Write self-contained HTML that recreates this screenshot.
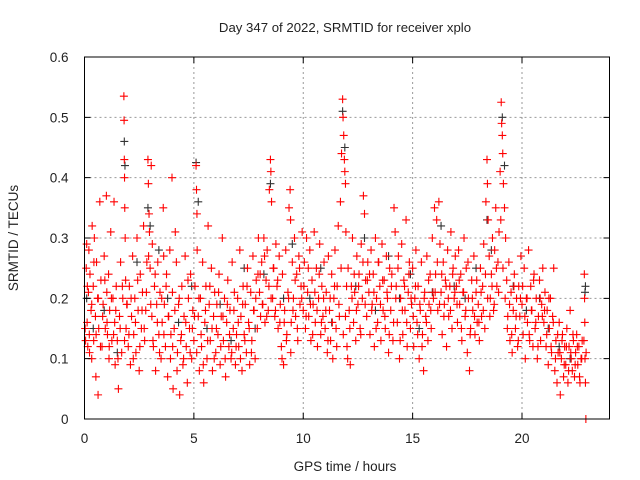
<!DOCTYPE html>
<html><head><meta charset="utf-8"><style>
body{margin:0;background:#fff}
svg{display:block;font-family:"Liberation Sans",sans-serif}
</style></head><body>
<svg id="chart" width="640" height="480" viewBox="0 0 640 480">
<rect width="640" height="480" fill="#fff"/>
<g id="grid"></g>
<g id="marks"></g>
<rect x="84.5" y="57" width="525" height="362" fill="none" stroke="#000" stroke-width="1"/>
<g id="ticks"></g>
<text x="345" y="32" font-size="13.2" text-anchor="middle" fill="#222">Day 347 of 2022, SRMTID for receiver xplo</text>
<text x="345" y="471" font-size="13.5" text-anchor="middle" fill="#222">GPS time / hours</text>
<text transform="translate(18,238) rotate(-90)" font-size="13.5" text-anchor="middle" fill="#222">SRMTID / TECUs</text>
</svg>
<script>
const xTicks=[0,5,10,15,20];
const yTicks=[0,0.1,0.2,0.3,0.4,0.5,0.6];
const yTickLabels=["0","0.1","0.2","0.3","0.4","0.5","0.6"];
const redSeries=[[0.05,.13],[0.08,.25],[0.1,.29],[0.12,.16],[0.15,.12],[0.18,.21],[0.2,.28],[0.22,.14],[0.25,.24],[0.3,.18],[0.33,.1],[0.35,.32],[0.4,.22],[0.42,.13],[0.45,.3],[0.5,.17],[0.52,.07],[0.55,.26],[0.6,.2],[0.62,.04],[0.65,.15],[0.7,.36],[0.75,.23],[0.8,.12],[0.85,.19],[0.9,.27],[0.95,.15],
[1.0,.37],[1.02,.21],[1.05,.14],[1.1,.24],[1.12,.1],[1.15,.18],[1.2,.31],[1.25,.13],[1.3,.2],[1.35,.36],[1.38,.16],[1.4,.09],[1.45,.22],[1.5,.13],[1.55,.05],[1.6,.17],[1.65,.26],[1.7,.11],[1.75,.2],[1.8,.535],[1.81,.495],[1.82,.43],[1.83,.4],[1.84,.35],[1.86,.3],[1.88,.23],[1.9,.15],[1.95,.19],
[2.0,.12],[2.05,.22],[2.1,.09],[2.15,.17],[2.2,.27],[2.25,.14],[2.3,.2],[2.35,.11],[2.4,.3],[2.45,.18],[2.5,.08],[2.55,.24],[2.6,.15],[2.65,.21],[2.7,.32],[2.75,.13],[2.8,.18],[2.85,.26],[2.9,.43],[2.92,.39],[2.95,.34],[2.97,.31],[3.0,.25],
[3.05,.42],[3.08,.17],[3.1,.29],[3.15,.12],[3.2,.22],[3.25,.08],[3.3,.19],[3.35,.26],[3.4,.14],[3.45,.21],[3.5,.1],[3.55,.16],[3.6,.35],[3.62,.27],[3.65,.19],[3.7,.12],[3.75,.24],[3.8,.07],[3.85,.17],[3.9,.28],[3.95,.14],
[4.0,.4],[4.02,.21],[4.05,.05],[4.1,.15],[4.15,.31],[4.2,.26],[4.25,.11],[4.3,.19],[4.35,.04],[4.4,.13],[4.45,.22],[4.5,.09],[4.55,.17],[4.6,.27],[4.65,.12],[4.7,.06],[4.75,.2],[4.8,.15],[4.85,.24],[4.9,.1],[4.95,.18],
[5.0,.13],[5.05,.22],[5.1,.42],[5.12,.38],[5.14,.34],[5.15,.28],[5.2,.17],[5.25,.08],[5.3,.2],[5.35,.12],[5.4,.26],[5.45,.06],[5.5,.16],[5.55,.22],[5.6,.1],[5.65,.32],[5.7,.19],[5.75,.13],[5.8,.25],[5.85,.08],[5.9,.17],[5.95,.21],
[6.0,.11],[6.05,.19],[6.1,.14],[6.15,.24],[6.2,.09],[6.25,.17],[6.3,.3],[6.35,.13],[6.4,.2],[6.45,.07],[6.5,.16],[6.55,.23],[6.6,.12],[6.65,.18],[6.7,.1],[6.75,.26],[6.8,.15],[6.85,.21],[6.9,.09],[6.95,.14],
[7.0,.2],[7.05,.12],[7.1,.28],[7.15,.17],[7.2,.08],[7.25,.22],[7.3,.14],[7.35,.19],[7.4,.11],[7.45,.25],[7.5,.16],[7.55,.09],[7.6,.21],[7.65,.13],[7.7,.27],[7.75,.18],[7.8,.1],[7.85,.23],[7.9,.15],[7.95,.3],
[8.0,.21],[8.05,.17],[8.1,.26],[8.15,.19],[8.2,.3],[8.25,.16],[8.3,.23],[8.35,.28],[8.4,.18],[8.45,.38],[8.5,.43],[8.52,.41],[8.55,.36],[8.6,.2],[8.65,.25],[8.7,.17],[8.75,.29],[8.8,.22],[8.85,.15],[8.9,.27],[8.95,.19],
[9.0,.12],[9.05,.24],[9.1,.09],[9.15,.18],[9.2,.28],[9.25,.14],[9.3,.21],[9.35,.35],[9.4,.38],[9.42,.33],[9.45,.16],[9.5,.26],[9.55,.2],[9.6,.3],[9.65,.17],[9.7,.24],[9.75,.13],[9.8,.27],[9.85,.19],[9.9,.22],[9.95,.31],
[10.0,.18],[10.05,.26],[10.1,.15],[10.15,.3],[10.2,.21],[10.25,.17],[10.3,.28],[10.35,.13],[10.4,.23],[10.45,.19],[10.5,.31],[10.55,.16],[10.6,.25],[10.65,.12],[10.7,.2],[10.75,.29],[10.8,.14],[10.85,.22],[10.9,.17],[10.95,.26],
[11.0,.15],[11.05,.21],[11.1,.11],[11.15,.27],[11.2,.18],[11.25,.13],[11.3,.24],[11.35,.1],[11.4,.2],[11.45,.28],[11.5,.15],[11.55,.22],[11.6,.32],[11.65,.17],[11.7,.36],[11.75,.44],[11.8,.53],[11.82,.5],[11.85,.47],[11.88,.43],[11.9,.41],[11.93,.39],[11.95,.31],[11.98,.22],
[12.0,.12],[12.05,.25],[12.1,.18],[12.15,.09],[12.2,.22],[12.25,.3],[12.3,.16],[12.35,.21],[12.4,.13],[12.45,.27],[12.5,.19],[12.55,.24],[12.6,.15],[12.65,.29],[12.7,.2],[12.75,.37],[12.8,.34],[12.85,.23],[12.9,.17],[12.95,.26],
[13.0,.21],[13.05,.14],[13.1,.28],[13.15,.19],[13.2,.24],[13.25,.12],[13.3,.3],[13.35,.2],[13.4,.16],[13.45,.26],[13.5,.22],[13.55,.13],[13.6,.29],[13.65,.18],[13.7,.23],[13.75,.15],[13.8,.27],[13.85,.2],[13.9,.11],[13.95,.25],
[14.0,.18],[14.05,.24],[14.1,.13],[14.15,.35],[14.2,.31],[14.25,.22],[14.3,.16],[14.35,.27],[14.4,.1],[14.45,.2],[14.5,.29],[14.55,.14],[14.6,.23],[14.65,.18],[14.7,.33],[14.75,.12],[14.8,.21],[14.85,.26],[14.9,.15],[14.95,.19],
[15.0,.25],[15.05,.12],[15.1,.2],[15.15,.28],[15.2,.16],[15.25,.22],[15.3,.1],[15.35,.18],[15.4,.26],[15.45,.14],[15.5,.08],[15.55,.21],[15.6,.17],[15.65,.27],[15.7,.13],[15.75,.19],[15.8,.24],[15.85,.15],[15.9,.3],[15.95,.2],
[16.0,.35],[16.05,.24],[16.1,.33],[16.15,.18],[16.2,.36],[16.25,.29],[16.3,.21],[16.35,.14],[16.4,.26],[16.45,.19],[16.5,.23],[16.55,.12],[16.6,.28],[16.65,.17],[16.7,.22],[16.75,.31],[16.8,.15],[16.85,.25],[16.9,.2],[16.95,.27],
[17.0,.22],[17.05,.16],[17.1,.28],[17.15,.19],[17.2,.24],[17.25,.13],[17.3,.21],[17.35,.3],[17.4,.17],[17.45,.25],[17.5,.11],[17.55,.2],[17.6,.08],[17.65,.15],[17.7,.23],[17.75,.18],[17.8,.27],[17.85,.14],[17.9,.21],[17.95,.16],
[18.0,.19],[18.05,.13],[18.1,.25],[18.15,.17],[18.2,.22],[18.25,.29],[18.3,.15],[18.35,.36],[18.4,.43],[18.42,.39],[18.45,.33],[18.5,.27],[18.55,.2],[18.6,.24],[18.65,.3],[18.7,.18],[18.75,.28],[18.8,.35],[18.85,.22],[18.9,.26],[18.95,.31],
[19.0,.41],[19.05,.525],[19.07,.49],[19.1,.47],[19.12,.44],[19.15,.39],[19.2,.35],[19.25,.3],[19.3,.23],[19.35,.17],[19.4,.26],[19.45,.13],[19.5,.21],[19.55,.11],[19.6,.18],[19.65,.24],[19.7,.15],[19.75,.2],[19.8,.12],[19.85,.22],[19.9,.17],[19.95,.27],
[20.0,.19],[20.05,.14],[20.1,.25],[20.15,.1],[20.2,.2],[20.25,.16],[20.3,.28],[20.35,.13],[20.4,.22],[20.45,.18],[20.5,.12],[20.55,.24],[20.6,.15],[20.65,.2],[20.7,.1],[20.75,.17],[20.8,.23],[20.85,.13],[20.9,.19],[20.95,.25],
[21.0,.16],[21.05,.21],[21.1,.12],[21.15,.18],[21.2,.09],[21.25,.15],[21.3,.2],[21.35,.11],[21.4,.17],[21.45,.25],[21.5,.08],[21.55,.13],[21.6,.06],[21.65,.11],[21.7,.16],[21.75,.04],[21.8,.1],[21.85,.14],[21.9,.07],[21.95,.12],
[22.0,.09],[22.05,.15],[22.1,.06],[22.15,.12],[22.2,.18],[22.25,.1],[22.3,.08],[22.35,.13],[22.4,.07],[22.45,.11],[22.5,.14],[22.55,.09],[22.6,.12],[22.65,.06],[22.7,.1],[22.75,.13],[22.85,.24],[22.86,.2],[22.87,.16],[22.88,.1],[22.9,.06],[22.92,0.0]];
const redDense=[[0.03,.15],[0.13,.22],[0.23,.11],[0.33,.19],[0.43,.26],[0.53,.14],[0.63,.2],[0.73,.12],[0.83,.17],[0.93,.23],
[1.03,.16],[1.13,.12],[1.23,.2],[1.33,.14],[1.43,.18],[1.53,.1],[1.63,.15],[1.73,.22],[1.83,.13],[1.93,.19],
[2.03,.14],[2.13,.2],[2.23,.1],[2.33,.16],[2.43,.23],[2.53,.12],[2.63,.18],[2.73,.15],[2.83,.21],[2.93,.27],
[3.03,.19],[3.13,.13],[3.23,.24],[3.33,.16],[3.43,.11],[3.53,.2],[3.63,.14],[3.73,.22],[3.83,.17],[3.93,.1],
[4.03,.12],[4.13,.18],[4.23,.08],[4.33,.2],[4.43,.14],[4.53,.1],[4.63,.16],[4.73,.23],[4.83,.11],[4.93,.15],
[5.03,.17],[5.13,.11],[5.23,.2],[5.33,.14],[5.43,.09],[5.53,.18],[5.63,.13],[5.73,.22],[5.83,.15],[5.93,.1],
[6.03,.15],[6.13,.21],[6.23,.12],[6.33,.17],[6.43,.1],[6.53,.19],[6.63,.14],[6.73,.11],[6.83,.18],[6.93,.12],
[7.03,.16],[7.13,.1],[7.23,.19],[7.33,.13],[7.43,.22],[7.53,.15],[7.63,.11],[7.73,.18],[7.83,.2],[7.93,.24],
[8.03,.24],[8.13,.19],[8.23,.27],[8.33,.17],[8.43,.22],[8.53,.2],[8.63,.25],[8.73,.18],[8.83,.23],[8.93,.16],
[9.03,.1],[9.13,.16],[9.23,.13],[9.33,.2],[9.43,.11],[9.53,.18],[9.63,.23],[9.73,.15],[9.83,.25],[9.93,.2],
[10.03,.22],[10.13,.17],[10.23,.25],[10.33,.19],[10.43,.14],[10.53,.21],[10.63,.18],[10.73,.24],[10.83,.16],[10.93,.2],
[11.03,.18],[11.13,.13],[11.23,.2],[11.33,.16],[11.43,.22],[11.53,.12],[11.63,.19],[11.73,.25],[11.83,.14],[11.93,.17],
[12.03,.1],[12.13,.15],[12.23,.2],[12.33,.24],[12.43,.18],[12.53,.22],[12.63,.14],[12.73,.26],[12.83,.19],[12.93,.23],
[13.03,.24],[13.13,.18],[13.23,.21],[13.33,.15],[13.43,.26],[13.53,.19],[13.63,.23],[13.73,.17],[13.83,.21],[13.93,.14],
[14.03,.22],[14.13,.16],[14.23,.2],[14.33,.25],[14.43,.13],[14.53,.18],[14.63,.22],[14.73,.16],[14.83,.24],[14.93,.2],
[15.03,.17],[15.13,.22],[15.23,.14],[15.33,.19],[15.43,.12],[15.53,.2],[15.63,.16],[15.73,.23],[15.83,.18],[15.93,.21],
[16.03,.21],[16.13,.26],[16.23,.19],[16.33,.24],[16.43,.17],[16.53,.22],[16.63,.2],[16.73,.18],[16.83,.24],[16.93,.21],
[17.03,.19],[17.13,.23],[17.23,.15],[17.33,.21],[17.43,.18],[17.53,.26],[17.63,.14],[17.73,.2],[17.83,.17],[17.93,.23],
[18.03,.16],[18.13,.21],[18.23,.18],[18.33,.24],[18.43,.2],[18.53,.17],[18.63,.22],[18.73,.19],[18.83,.25],[18.93,.21],
[19.03,.33],[19.13,.25],[19.23,.2],[19.33,.15],[19.43,.19],[19.53,.14],[19.63,.22],[19.73,.17],[19.83,.13],[19.93,.2],
[20.03,.22],[20.13,.17],[20.23,.2],[20.33,.14],[20.43,.18],[20.53,.23],[20.63,.16],[20.73,.12],[20.83,.2],[20.93,.17],
[21.03,.18],[21.13,.14],[21.23,.2],[21.33,.12],[21.43,.16],[21.53,.1],[21.63,.14],[21.73,.11],[21.83,.13],[21.93,.09],
[22.03,.12],[22.13,.08],[22.23,.11],[22.33,.14],[22.43,.09],[22.53,.12],[22.63,.07],[22.73,.1],[22.83,.13],[22.93,.11]];
const blackSeries=[[0.1,.2],[0.4,.15],[0.9,.18],[1.5,.11],[1.82,.46],[1.85,.42],[2.4,.26],[2.9,.35],[3.0,.32],[3.4,.28],[3.8,.2],[4.3,.16],[4.9,.22],[5.1,.425],[5.2,.36],[5.6,.15],[6.2,.19],[6.7,.13],[7.3,.25],[7.8,.15],[8.2,.24],[8.5,.39],[9.1,.2],[9.5,.29],[10.3,.2],[10.8,.25],[11.3,.16],[11.8,.51],[11.9,.45],[12.4,.22],[12.8,.3],[13.3,.18],[13.9,.27],[14.4,.2],[14.9,.24],[15.3,.15],[15.9,.21],[16.3,.32],[16.9,.22],[17.4,.2],[17.9,.25],[18.4,.33],[18.6,.28],[19.1,.5],[19.2,.42],[19.6,.22],[20.2,.18],[20.8,.2],[21.2,.15],[21.7,.12],[22.2,.1],[22.88,.21],[22.9,.22]];

const NS="http://www.w3.org/2000/svg";
const X0=84.5,X1=609.5,Y0=419,Y1=57,XMAX=24,YMAX=0.6;
function sx(t){return X0+(X1-X0)*t/XMAX;}
function sy(v){return Y0-(Y0-Y1)*v/YMAX;}
function mk(tag,attrs,parent){const e=document.createElementNS(NS,tag);for(const k in attrs)e.setAttribute(k,attrs[k]);parent.appendChild(e);return e;}
const grid=document.getElementById('grid'),ticks=document.getElementById('ticks'),marks=document.getElementById('marks');
xTicks.forEach(t=>{
  const x=sx(t);
  if(t>0){const g=mk('line',{x1:x,y1:Y1,x2:x,y2:Y0,stroke:'#999','stroke-dasharray':'2,3'},grid);
  
  }
  const tk=mk('path',{d:`M${x},${Y0}v-6M${x},${Y1}v6`,stroke:'#000'},ticks);
  
  
  const l=mk('text',{x:x,y:Y0+24,'font-size':'13.5','text-anchor':'middle',fill:'#222'},ticks);
  l.textContent=String(t);
  
  
});
yTicks.forEach((v,i)=>{
  const y=sy(v);
  if(v>0&&v<YMAX){const g=mk('line',{x1:X0,y1:y,x2:X1,y2:y,stroke:'#999','stroke-dasharray':'2,3'},grid);
  
  }
  const tk=mk('path',{d:`M${X0},${y}h6M${X1},${y}h-6`,stroke:'#000'},ticks);
  
  
  const l=mk('text',{x:X0-16,y:y+5,'font-size':'13.5','text-anchor':'end',fill:'#222'},ticks);
  l.textContent=yTickLabels[i];
  
  
});
function drawSeries(data,color,name){
  let d='';
  data.forEach(p=>{const x=sx(p[0]),y=sy(p[1]);d+=`M${x-4},${y}h8M${x},${y-4}v8`;});
  const p=mk('path',{d:d,stroke:color,'stroke-width':'1.1',fill:'none'},marks);
  
  
}
drawSeries(blackSeries,'#333','series-black-points');
drawSeries(redDense,'#ff0000','series-red-dense-points');
drawSeries(redSeries,'#ff0000','series-red-points');
</script>
</body></html>
